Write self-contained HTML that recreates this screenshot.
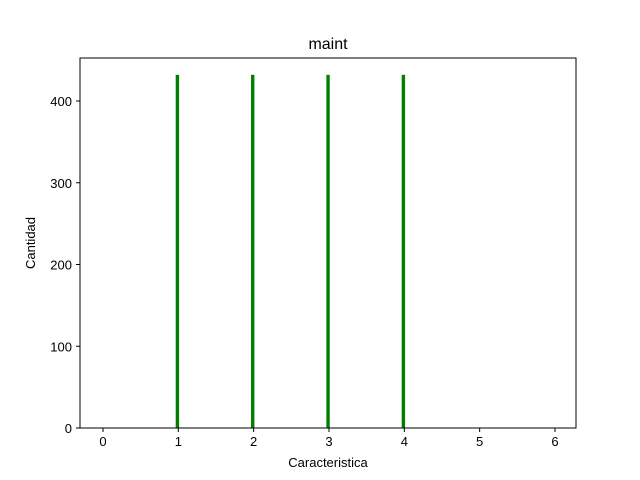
<!DOCTYPE html>
<html><head><meta charset="utf-8"><style>body{margin:0;background:#fff}svg{display:block;font-family:"Liberation Sans","DejaVu Sans",sans-serif}</style></head>
<body>
<svg width="640" height="480">
<g id="bars"></g>
<rect x="80" y="58" width="496" height="370" fill="none" stroke="#000" stroke-width="1"/>
<g id="xt"></g>
<g id="yt"></g>
<text x="328" y="49" text-anchor="middle" font-size="16">maint</text>
<text x="328" y="467" text-anchor="middle" font-size="13">Caracteristica</text>
<text x="35" y="243" text-anchor="middle" font-size="13" transform="rotate(-90 35 243)">Cantidad</text>
</svg>
<script>
const categories=[1,2,3,4];
const counts=[432,432,432,432];
const xTicks=[0,1,2,3,4,5,6];
const yTicks=[0,100,200,300,400];
const NS="http://www.w3.org/2000/svg";
const X=v=>103+(v)*75.33, Y=v=>428-v*0.8175;
const bars=document.getElementById('bars');
categories.forEach((c,i)=>{
 const r=document.createElementNS(NS,'rect');
 const x0=X(c-0.035), x1=X(c+0.01);
 r.setAttribute('x',x0);r.setAttribute('width',Math.max(3,x1-x0));
 r.setAttribute('y',Y(counts[i]));r.setAttribute('height',428-Y(counts[i]));
 r.setAttribute('fill','#008000');
 
 
 bars.appendChild(r);
});
const xt=document.getElementById('xt');
xTicks.forEach(t=>{
 const l=document.createElementNS(NS,'line');
 l.setAttribute('x1',X(t));l.setAttribute('x2',X(t));l.setAttribute('y1',428);l.setAttribute('y2',432);l.setAttribute('stroke','#000');
 
 
 xt.appendChild(l);
 const s=document.createElementNS(NS,'text');
 s.setAttribute('x',X(t));s.setAttribute('y',446);s.setAttribute('text-anchor','middle');s.setAttribute('font-size','13');s.textContent=t;
 
 
 xt.appendChild(s);
});
const yt=document.getElementById('yt');
yTicks.forEach(t=>{
 const l=document.createElementNS(NS,'line');
 l.setAttribute('x1',76);l.setAttribute('x2',80);l.setAttribute('y1',Y(t));l.setAttribute('y2',Y(t));l.setAttribute('stroke','#000');
 
 
 yt.appendChild(l);
 const s=document.createElementNS(NS,'text');
 s.setAttribute('x',72);s.setAttribute('y',Y(t)+5);s.setAttribute('text-anchor','end');s.setAttribute('font-size','13');s.textContent=t;
 
 
 yt.appendChild(s);
});
</script>
</body></html>
